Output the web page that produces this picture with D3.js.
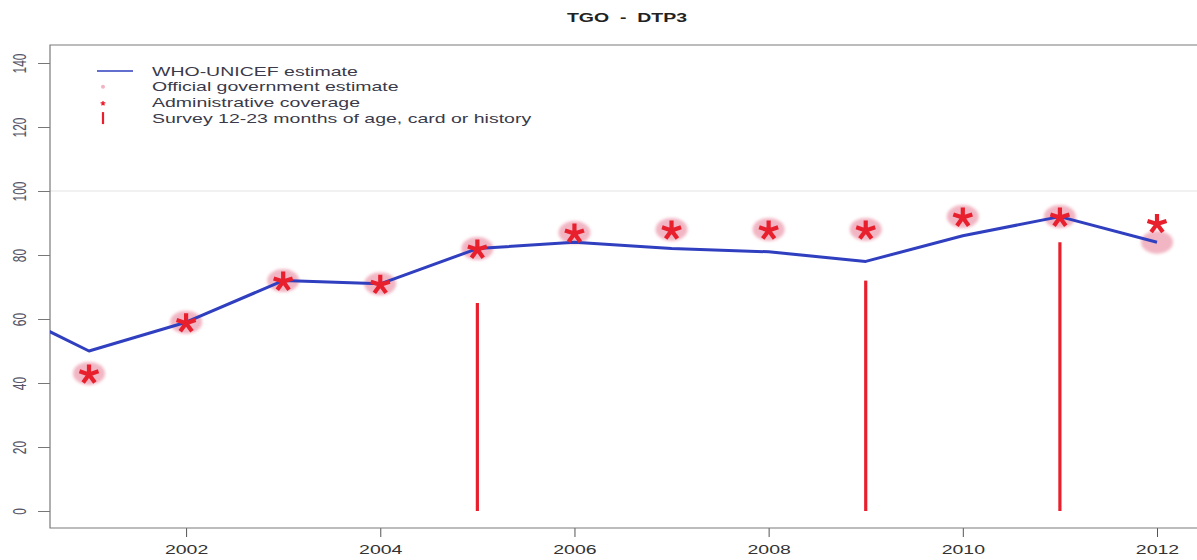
<!DOCTYPE html>
<html>
<head>
<meta charset="utf-8">
<script src="https://cdn.jsdelivr.net/npm/d3@7/dist/d3.min.js"></script>
<style>
  html, body { margin: 0; padding: 0; background: #fff; overflow: hidden; }
  svg { display: block; font-family: "Liberation Sans", Arial, sans-serif; }
</style>
</head>
<body>
<svg id="chart" width="1197" height="560"></svg>
<script>
// DTP3 coverage, Togo
const years = [2000, 2001, 2002, 2003, 2004, 2005, 2006, 2007, 2008, 2009, 2010, 2011, 2012];
const whoUnicef = [65, 50, 59, 72, 71, 82, 84, 82, 81, 78, 86, 92, 84];
const officialYears = [2001, 2002, 2003, 2004, 2005, 2006, 2007, 2008, 2009, 2010, 2011, 2012];
const official = [43, 59, 72, 71, 82, 87, 88, 88, 88, 92, 92, 84];
const adminYears = [2001, 2002, 2003, 2004, 2005, 2006, 2007, 2008, 2009, 2010, 2011, 2012];
const admin = [43, 59, 72, 71, 82, 87, 88, 88, 88, 92, 92, 90];
const surveyYears = [2005, 2009, 2011];
const survey = [65, 72, 84];
const yTicks = [0, 20, 40, 60, 80, 100, 120, 140];
const xTicks = [2002, 2004, 2006, 2008, 2010, 2012];
const legendLabels = [
  "WHO-UNICEF estimate",
  "Official government estimate",
  "Administrative coverage",
  "Survey 12-23 months of age, card or history"
];

const svg = d3.select("#chart");
const W = 1197;

// text in this figure is drawn wide (horizontal stretch)
const STRETCH = 1.5;

const plot = { left: 50, top: 45, bottom: 528, right: W + 20 };
const x = d3.scaleLinear().domain([2001, 2012]).range([89, 1157]);
const y = d3.scaleLinear().domain([0, 140]).range([511, 63]);

const RED = "#e8202e";
const BLUE = "#2f3fbf";
const PINK = "#efa9b9";

const defs = svg.append("defs");
defs.append("clipPath").attr("id", "plotclip")
  .append("rect")
  .attr("x", plot.left).attr("y", plot.top)
  .attr("width", plot.right - plot.left).attr("height", plot.bottom - plot.top);
defs.append("filter").attr("id", "soft")
  .attr("x", "-30%").attr("y", "-30%").attr("width", "160%").attr("height", "160%")
  .append("feGaussianBlur").attr("stdDeviation", 1.6);

// Title
svg.append("text")
  .attr("transform", `translate(627,22) scale(${STRETCH},1)`)
  .attr("text-anchor", "middle")
  .attr("font-size", 13).attr("font-weight", "bold")
  .attr("fill", "#222")
  .attr("xml:space", "preserve")
  .text("TGO  -  DTP3");

// Reference line at 100%
svg.append("line")
  .attr("x1", plot.left).attr("x2", W)
  .attr("y1", y(100)).attr("y2", y(100))
  .attr("stroke", "#e4e4e4").attr("stroke-width", 1.2);

// Y axis
const yAxis = d3.axisLeft(y).tickValues(yTicks).tickSize(12).tickPadding(0).tickFormat(d3.format("d"));
const yg = svg.append("g").attr("transform", `translate(${plot.left},0)`).call(yAxis);
yg.select(".domain").remove();
yg.selectAll(".tick line").attr("stroke", "#777");
yg.selectAll(".tick text")
  .attr("transform", `translate(-30.5,0) scale(${STRETCH},1) rotate(-90)`)
  .attr("x", 0).attr("y", 0).attr("dy", "0.35em")
  .attr("text-anchor", "middle")
  .attr("font-size", 12).attr("fill", "#556")
  .style("font-family", "Liberation Sans, Arial, sans-serif");

// X axis
const xAxis = d3.axisBottom(x).tickValues(xTicks).tickSize(9).tickPadding(8).tickFormat(d3.format("d"));
const xg = svg.append("g").attr("transform", `translate(0,${plot.bottom})`).call(xAxis);
xg.select(".domain").remove();
xg.selectAll(".tick line").attr("stroke", "#555");
xg.selectAll(".tick text")
  .attr("transform", `scale(${STRETCH},1)`)
  .attr("font-size", 13).attr("fill", "#333")
  .style("font-family", "Liberation Sans, Arial, sans-serif");

// Plot frame: the right side runs past the page edge, so only three sides are drawn
svg.append("path")
  .attr("d", `M${W},${plot.top}H${plot.left}V${plot.bottom}H${W}`)
  .attr("fill", "none").attr("stroke", "#7a7a7a").attr("stroke-width", 1.2);

const g = svg.append("g").attr("clip-path", "url(#plotclip)");

// Survey bars
g.selectAll("line.survey")
  .data(surveyYears.map((yr, i) => ({ yr, v: survey[i] })))
  .join("line")
  .attr("class", "survey")
  .attr("x1", d => x(d.yr)).attr("x2", d => x(d.yr))
  .attr("y1", y(0)).attr("y2", d => y(d.v))
  .attr("stroke", RED).attr("stroke-width", 3.2);

// Official government estimate (soft pink discs)
g.selectAll("ellipse.official")
  .data(officialYears.map((yr, i) => ({ yr, v: official[i] })))
  .join("ellipse")
  .attr("class", "official")
  .attr("cx", d => x(d.yr)).attr("cy", d => y(d.v))
  .attr("rx", 16).attr("ry", 11.5)
  .attr("fill", PINK).attr("opacity", 0.85)
  .attr("filter", "url(#soft)");

// WHO-UNICEF estimate line
g.append("path")
  .datum(years.map((yr, i) => ({ yr, v: whoUnicef[i] })))
  .attr("d", d3.line().x(d => x(d.yr)).y(d => y(d.v)))
  .attr("fill", "none").attr("stroke", BLUE).attr("stroke-width", 3)
  .attr("stroke-linejoin", "round");

// Administrative coverage: five-armed asterisks
function asteriskPath(r) {
  let p = "";
  for (let k = 0; k < 5; k++) {
    const a = -Math.PI / 2 + k * 2 * Math.PI / 5;
    p += `M0,0L${(r * Math.cos(a)).toFixed(2)},${(r * Math.sin(a)).toFixed(2)}`;
  }
  return p;
}
g.selectAll("path.admin")
  .data(adminYears.map((yr, i) => ({ yr, v: admin[i] })))
  .join("path")
  .attr("class", "admin")
  .attr("transform", d => `translate(${x(d.yr)},${y(d.v) + 1})`)
  .attr("d", asteriskPath(10))
  .attr("stroke", RED).attr("stroke-width", 4.2)
  .attr("stroke-linecap", "butt")
  .attr("fill", "none");

// Legend
const lg = svg.append("g");
const lx = 103, ly0 = 71, lstep = 15.7;
lg.append("line")
  .attr("x1", 97).attr("x2", 133).attr("y1", ly0).attr("y2", ly0)
  .attr("stroke", BLUE).attr("stroke-width", 1.5);
lg.append("circle")
  .attr("cx", lx).attr("cy", ly0 + lstep).attr("r", 2)
  .attr("fill", "#f3b3c2");
lg.append("path")
  .attr("transform", `translate(${lx},${ly0 + 2 * lstep + 1})`)
  .attr("d", asteriskPath(2.5))
  .attr("stroke", RED).attr("stroke-width", 1.2).attr("fill", "none");
lg.append("line")
  .attr("x1", lx).attr("x2", lx)
  .attr("y1", ly0 + 3 * lstep - 6).attr("y2", ly0 + 3 * lstep + 6)
  .attr("stroke", RED).attr("stroke-width", 2.2);
lg.selectAll("text")
  .data(legendLabels)
  .join("text")
  .attr("transform", (d, i) => `translate(152,${ly0 + i * lstep}) scale(${STRETCH},1)`)
  .attr("dy", "0.35em")
  .attr("font-size", 13).attr("fill", "#3a3a4a")
  .text(d => d);
</script>
</body>
</html>
